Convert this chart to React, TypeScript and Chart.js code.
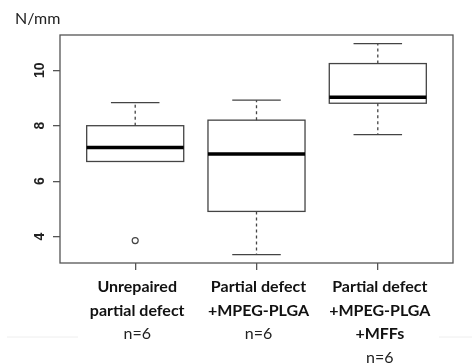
import React, { useEffect, useRef } from "react";
import { Chart, registerables } from "chart.js";

Chart.register(...registerables);

// ---- data ----
const categoryLines: string[][] = [
  ["Unrepaired", "partial defect"],
  ["Partial defect", "+MPEG-PLGA"],
  ["Partial defect", "+MPEG-PLGA", "+MFFs"],
];
const sampleLabels = ["n=6", "n=6", "n=6"];
const whiskerLow = [6.71, 3.35, 7.68];
const q1 = [6.71, 4.91, 8.81];
const median = [7.21, 6.98, 9.03];
const q3 = [8.0, 8.2, 10.24];
const whiskerHigh = [8.83, 8.92, 10.96];
const outliers = [{ group: 1, value: 3.86 }];
const yTicks = [4, 6, 8, 10];
const unitLabel = "N/mm";

const boxPlugin = {
  id: "boxDraw",
  afterDatasetsDraw(chart: any) {
    const { ctx, chartArea } = chart;
    const xs = chart.scales.x;
    const ys = chart.scales.y;
    ctx.save();
    // frame
    ctx.strokeStyle = "#555";
    ctx.lineWidth = 1.3;
    ctx.strokeRect(chartArea.left, chartArea.top, chartArea.right - chartArea.left, chartArea.bottom - chartArea.top);

    for (let i = 0; i < q1.length; i++) {
      const c = xs.getPixelForValue(i + 1);
      const bl = xs.getPixelForValue(i + 1 - 0.4);
      const br = xs.getPixelForValue(i + 1 + 0.4);
      const cl = xs.getPixelForValue(i + 1 - 0.2);
      const cr = xs.getPixelForValue(i + 1 + 0.2);
      const yq1 = ys.getPixelForValue(q1[i]);
      const yq3 = ys.getPixelForValue(q3[i]);
      const ym = ys.getPixelForValue(median[i]);
      const ylo = ys.getPixelForValue(whiskerLow[i]);
      const yhi = ys.getPixelForValue(whiskerHigh[i]);
      ctx.strokeStyle = "#444";
      ctx.lineWidth = 1.3;
      // whiskers dashed
      ctx.setLineDash([3, 3]);
      ctx.beginPath();
      ctx.moveTo(c, yq3);
      ctx.lineTo(c, yhi);
      if (whiskerLow[i] < q1[i]) {
        ctx.moveTo(c, yq1);
        ctx.lineTo(c, ylo);
      }
      ctx.stroke();
      ctx.setLineDash([]);
      // caps
      ctx.beginPath();
      ctx.moveTo(cl, yhi);
      ctx.lineTo(cr, yhi);
      if (whiskerLow[i] < q1[i]) {
        ctx.moveTo(cl, ylo);
        ctx.lineTo(cr, ylo);
      }
      ctx.stroke();
      // box
      ctx.strokeRect(bl, yq3, br - bl, yq1 - yq3);
      // median
      ctx.strokeStyle = "#000";
      ctx.lineWidth = 3.5;
      ctx.beginPath();
      ctx.moveTo(bl, ym);
      ctx.lineTo(br, ym);
      ctx.stroke();
    }

    // y tick labels (rotated)
    ctx.fillStyle = "#222";
    ctx.font = "bold 14px 'Liberation Sans', Arial, sans-serif";
    ctx.textAlign = "center";
    ctx.textBaseline = "middle";
    for (const t of yTicks) {
      const py = ys.getPixelForValue(t);
      ctx.save();
      ctx.translate(chartArea.left - 20, py);
      ctx.rotate(-Math.PI / 2);
      ctx.fillText(String(t), 0, 0);
      ctx.restore();
    }

    // x labels
    ctx.textBaseline = "middle";
    for (let i = 0; i < categoryLines.length; i++) {
      const c = xs.getPixelForValue(i + 1);
      const lines = categoryLines[i];
      ctx.font = "bold 16px Lato, 'Open Sans', sans-serif";
      ctx.fillStyle = "#111";
      lines.forEach((ln, k) => ctx.fillText(ln, c + 2, chartArea.bottom + 24 + k * 23.5));
      ctx.font = "16px Lato, 'Open Sans', sans-serif";
      ctx.fillStyle = "#222";
      ctx.fillText(sampleLabels[i], c + 2, chartArea.bottom + 24 + lines.length * 23.5);
    }

    // unit label
    ctx.font = "16px Lato, 'Open Sans', sans-serif";
    ctx.textAlign = "left";
    ctx.fillStyle = "#222";
    ctx.fillText(unitLabel, 15, 19);

    // faint separator lines
    ctx.strokeStyle = "#eeeeee";
    ctx.lineWidth = 1;
    ctx.beginPath();
    ctx.moveTo(7, 337);
    ctx.lineTo(78, 337);
    ctx.moveTo(439, 337);
    ctx.lineTo(472, 337);
    ctx.stroke();
    ctx.restore();
  },
};

export default function App() {
  const ref = useRef<HTMLCanvasElement | null>(null);
  useEffect(() => {
    if (!ref.current) return;
    const chart = new Chart(ref.current, {
      type: "scatter",
      data: {
        datasets: [
          {
            data: outliers.map((o) => ({ x: o.group, y: o.value })),
            pointStyle: "circle",
            radius: 3,
            borderWidth: 1.2,
            borderColor: "#444",
            backgroundColor: "rgba(0,0,0,0)",
          },
        ],
      },
      options: {
        animation: false,
        responsive: false,
        layout: { padding: { top: 35, right: 19, left: 0, bottom: 0 } },
        plugins: { legend: { display: false }, tooltip: { enabled: false }, title: { display: false } },
        scales: {
          x: {
            type: "linear",
            min: 0.38,
            max: 3.62,
            afterBuildTicks: (s: any) => {
              s.ticks = [1, 2, 3].map((v) => ({ value: v }));
            },
            afterFit: (s: any) => {
              s.height = 101;
            },
            ticks: { display: false },
            border: { display: false },
            grid: { drawOnChartArea: false, drawTicks: true, tickLength: 7, color: "#555", lineWidth: 1.3 },
          },
          y: {
            type: "linear",
            min: 3.05,
            max: 11.27,
            afterBuildTicks: (s: any) => {
              s.ticks = yTicks.map((v) => ({ value: v }));
            },
            afterFit: (s: any) => {
              s.width = 60;
            },
            ticks: { display: false },
            border: { display: false },
            grid: { drawOnChartArea: false, drawTicks: true, tickLength: 7, color: "#555", lineWidth: 1.3 },
          },
        },
      },
      plugins: [boxPlugin],
    });
    return () => chart.destroy();
  }, []);
  return (
    <div style={{ position: "fixed", left: 0, top: 0, width: 472, height: 364, background: "#fff" }}>
      <canvas ref={ref} width={472} height={364} />
    </div>
  );
}
